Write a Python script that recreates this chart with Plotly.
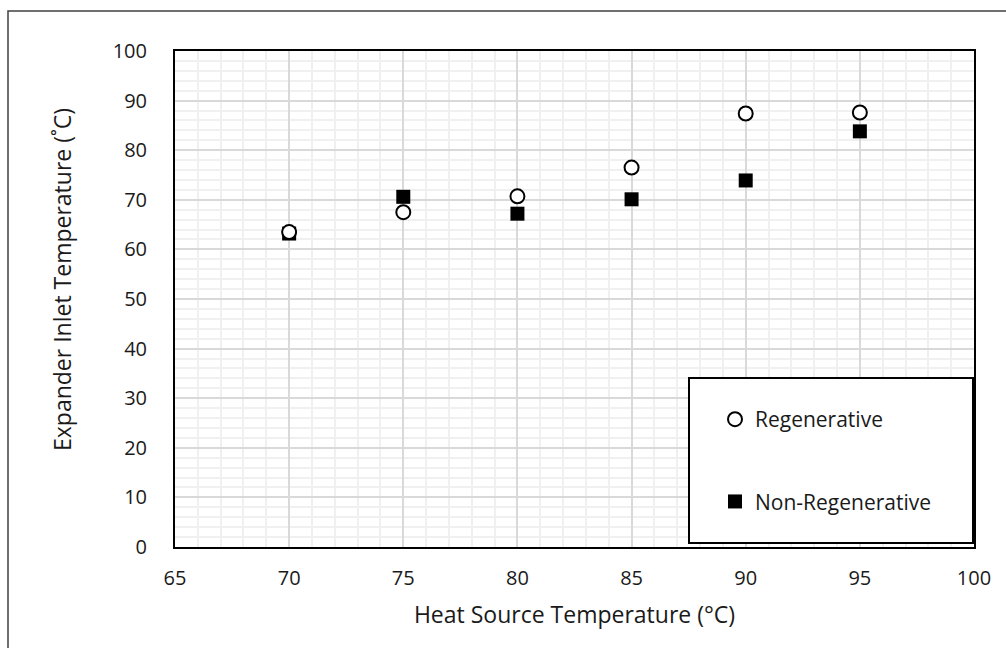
import plotly.graph_objects as go

# Heat source temperature (°C)
heat_source = [70, 75, 80, 85, 90, 95]
# Expander inlet temperature (°C) for each cycle configuration
regenerative = [63.5, 67.5, 70.7, 76.5, 87.4, 87.6]
non_regenerative = [63.2, 70.6, 67.2, 70.1, 73.9, 83.8]

x_ticks = [65, 70, 75, 80, 85, 90, 95, 100]
y_ticks = [0, 10, 20, 30, 40, 50, 60, 70, 80, 90, 100]

FONT = "Open Sans"
TXT = "#1a1a1a"
W, H = 1006, 648
L, R, T, B = 175, 32, 51, 101
PW, PH = W - L - R, H - T - B


def px_to_paper(px, py):
    return (px - L) / PW, (H - B - py) / PH


fig = go.Figure()

fig.add_trace(go.Scatter(
    x=heat_source, y=non_regenerative, mode="markers", name="Non-Regenerative",
    legendgroup="b", legendrank=2,
    marker=dict(symbol="square", size=14, color="black", line=dict(width=0)),
))
fig.add_trace(go.Scatter(
    x=heat_source, y=regenerative, mode="markers", name="Regenerative",
    legendgroup="a", legendrank=1,
    marker=dict(symbol="circle", size=14, color="white", line=dict(width=2, color="black")),
))

# legend frame and outer chart frame
lx0, ly0 = px_to_paper(689, 543)
lx1, ly1 = px_to_paper(973, 378)
ox0, oy0 = px_to_paper(8, 700)
ox1, oy1 = px_to_paper(1060, 11)
fig.add_shape(type="rect", xref="paper", yref="paper", x0=lx0, y0=ly0, x1=lx1, y1=ly1,
              line=dict(color="black", width=2), fillcolor="white", layer="above")
fig.add_shape(type="rect", xref="paper", yref="paper", x0=ox0, y0=oy0, x1=ox1, y1=oy1,
              line=dict(color="#404040", width=1.5), fillcolor="rgba(0,0,0,0)")

# y-axis title, drawn as a rotated annotation
ytx, yty = px_to_paper(62, 279)
fig.add_annotation(
    text="Expander Inlet Temperature (˚C)", xref="paper", yref="paper",
    x=ytx, y=yty, xanchor="center", yanchor="middle", textangle=-90,
    showarrow=False, font=dict(family=FONT, size=23, color=TXT),
)

legx, legy = px_to_paper(715, 399)

fig.update_layout(
    width=W, height=H,
    margin=dict(l=L, r=R, t=T, b=B),
    paper_bgcolor="white", plot_bgcolor="white",
    font=dict(family=FONT, color=TXT),
    showlegend=True,
    legend=dict(
        x=legx, y=legy, xanchor="left", yanchor="top",
        bgcolor="rgba(0,0,0,0)", borderwidth=0,
        font=dict(family=FONT, size=21, color=TXT),
        traceorder="grouped", tracegroupgap=52, itemwidth=30,
    ),
    xaxis=dict(
        range=[65, 100], tickmode="array", tickvals=x_ticks,
        ticktext=[str(v) for v in x_ticks],
        showline=True, linecolor="black", linewidth=2, mirror=True,
        showgrid=True, gridcolor="#d9d9d9", gridwidth=1.5,
        minor=dict(dtick=1, showgrid=True, gridcolor="#f0f0f0", gridwidth=1.5),
        ticks="", zeroline=False, ticklabelstandoff=12,
        tickfont=dict(family=FONT, size=20, color=TXT),
        title=dict(text="Heat Source Temperature (°C)",
                   font=dict(family=FONT, size=23, color=TXT), standoff=17),
    ),
    yaxis=dict(
        range=[0, 100], tickmode="array", tickvals=y_ticks,
        ticktext=[str(v) for v in y_ticks],
        showline=True, linecolor="black", linewidth=2, mirror=True,
        showgrid=True, gridcolor="#d9d9d9", gridwidth=1.5,
        minor=dict(dtick=2, showgrid=True, gridcolor="#f0f0f0", gridwidth=1.5),
        ticks="", zeroline=False, ticklabelstandoff=22,
        tickfont=dict(family=FONT, size=20, color=TXT),
    ),
)

fig.write_html("out.html")
